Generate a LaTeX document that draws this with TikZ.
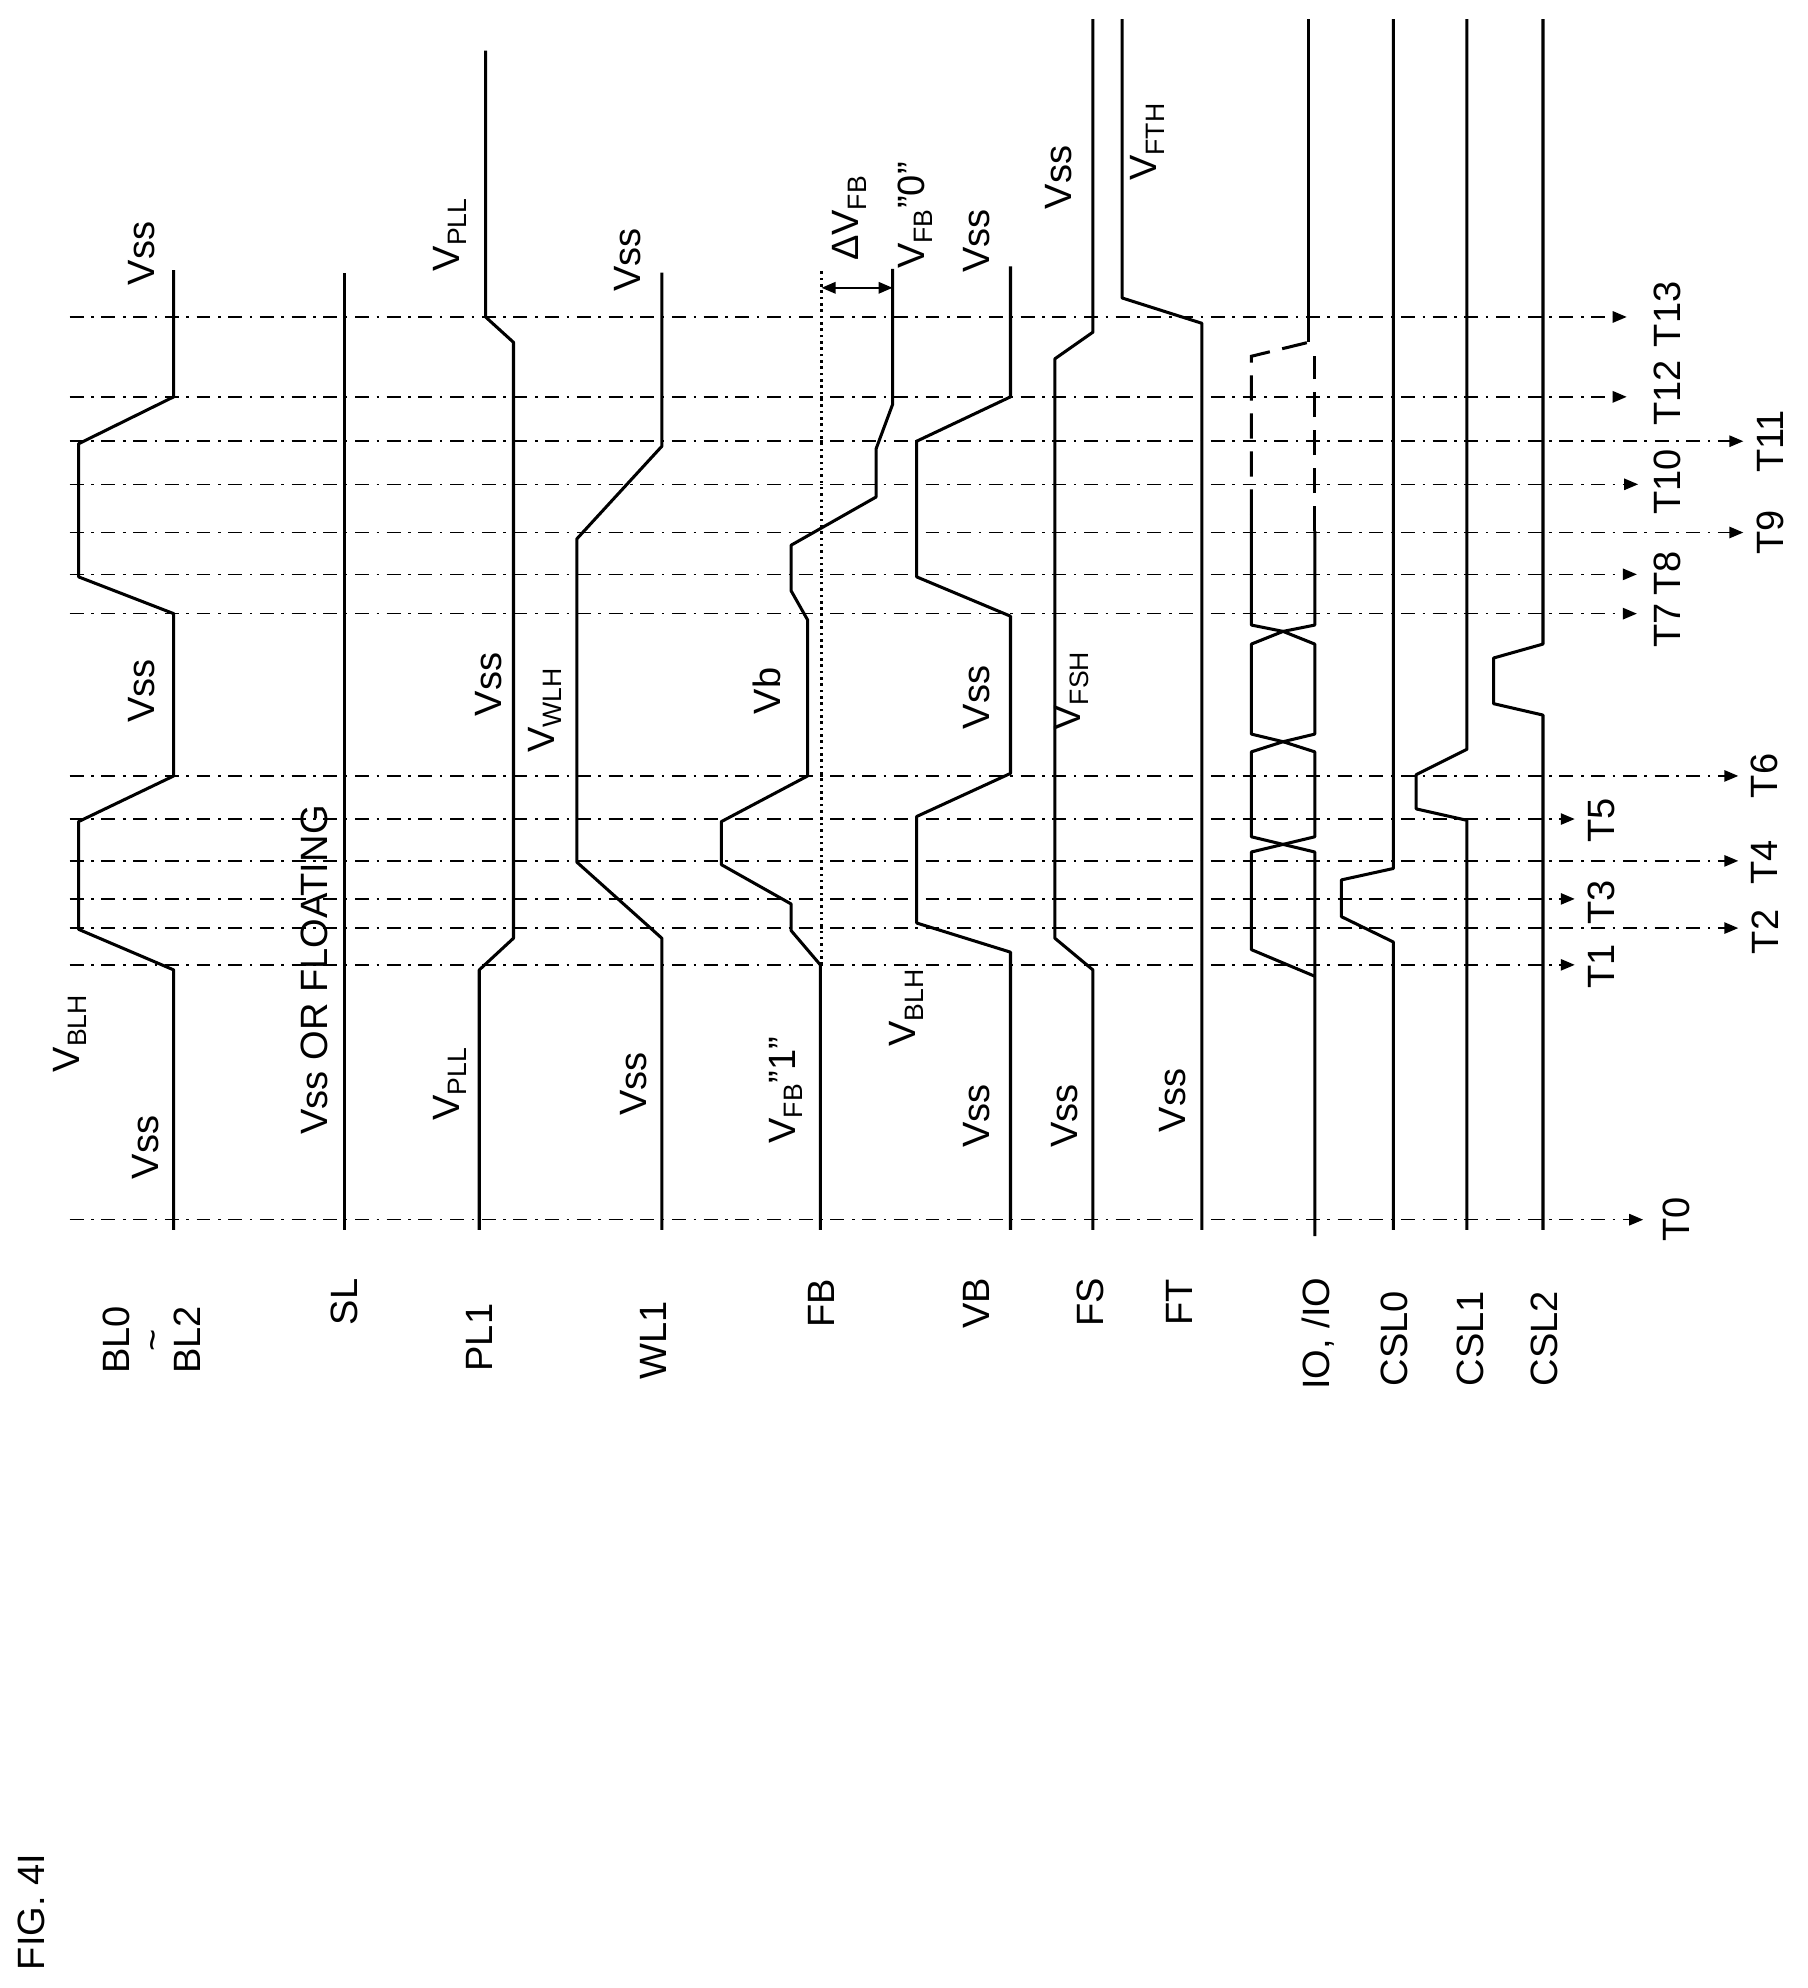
\documentclass[tikz,border=0pt]{standalone}
\usepackage{fontspec}
\setmainfont{Liberation Sans}
\usetikzlibrary{arrows.meta}
\begin{document}
\begin{tikzpicture}[x=1pt,y=-1pt,
  sig/.style={line width=2.4pt,line join=round},
  grid/.style={line width=1.2pt,dash pattern=on 11pt off 6pt on 2pt off 6pt,-{Triangle[length=11pt,width=9pt]}},
  lab/.style={rotate=90,font=\fontsize{30}{34}\selectfont,inner sep=0pt}]
\useasboundingbox (0,0) rectangle (1426,1568);
% grid
\foreach \y/\t in {962/1296,761/1242,732/1371,709/1242,679/1371,646/1242,612/1371,484/1291,453/1291,420/1375,382/1292,348/1375,313/1283,250/1283}
  \draw[grid] (55,\y) -- (\t,\y);
\foreach \x/\y/\s in {1322/962/T0,1263/762/T1,1263/712/T3,1263/647/T5,1392/735/T2,1392/680/T4,1392/612/T6,1315/493/T7,1315/452/T8,1315/380/T10,1315/310/T12,1315/248/T13,1396/420/T9,1396/348/T11}
  \node[lab] at (\x,\y) {\s};
% signals
\draw[sig] (137,970) -- (137,765) -- (62,733) -- (62,648) -- (137,612) -- (137,484) -- (62,455) -- (62,350) -- (137,313) -- (137,213);
\draw[sig] (272,970) -- (272,215);
\draw[sig] (378,970) -- (378,765) -- (405,740) -- (405,270) -- (383,250) -- (383,40);
\draw[sig] (522,970) -- (522,740) -- (455,680) -- (455,425) -- (522,352) -- (522,215);
\draw[sig] (647,970) -- (647,761) -- (624,734) -- (624,713) -- (569,682) -- (569,648) -- (637,612) -- (637,489) -- (624,466) -- (624,430) -- (691,392) -- (691,354) -- (704,319) -- (704,212);
\draw[line width=1.8pt,dash pattern=on 2pt off 3pt] (648,761) -- (648,214);
\draw[line width=1.5pt,{Triangle[length=11pt,width=9pt]}-{Triangle[length=11pt,width=9pt]}] (648,227) -- (704,227);
\draw[sig] (797,970) -- (797,751) -- (723,728) -- (723,644) -- (797,610) -- (797,486) -- (723,455) -- (723,348) -- (797,313) -- (797,210);
\draw[sig] (862,970) -- (862,765) -- (832,740) -- (832,283) -- (862,262) -- (862,15);
\draw[sig] (948,970) -- (948,255) -- (885,235) -- (885,15);
% IO
\draw[sig] (1037,975) -- (1037,770) -- (1037,672) -- (1012,666) -- (987,660) -- (987,593) -- (1012,585) -- (1037,579) -- (1037,508) -- (1012,498) -- (987,493) -- (987,406);
\draw[sig] (1037,770) -- (987,749) -- (987,672) -- (1012,666) -- (1037,660) -- (1037,593) -- (1012,585) -- (987,579) -- (987,508) -- (1012,498) -- (1037,493) -- (1037,419);
\draw[line width=2.4pt,dash pattern=on 20pt off 10pt] (987,406) -- (987,281) -- (1032,270);
\draw[line width=2.4pt,dash pattern=on 20pt off 10pt] (1037,419) -- (1037,281);
\draw[sig] (1032,270) -- (1032,15);
% CSL
\draw[sig] (1099,970) -- (1099,743) -- (1058,723) -- (1058,694) -- (1099,685) -- (1099,15);
\draw[sig] (1157,970) -- (1157,647) -- (1117,638) -- (1117,611) -- (1157,591) -- (1157,15);
\draw[sig] (1217,970) -- (1217,564) -- (1178,555) -- (1178,519) -- (1217,508) -- (1217,15);
% signal names
\node[lab,align=center] at (120,1057) {BL0\\[-6pt]\char`~\\[-6pt]BL2};
\node[lab] at (272,1027) {SL};
\node[lab] at (378,1055) {PL1};
\node[lab] at (515,1057) {WL1};
\node[lab] at (648,1028) {FB};
\node[lab] at (770,1028) {VB};
\node[lab] at (860,1027) {FS};
\node[lab] at (930,1027) {FT};
\node[lab] at (1040,1052) {IO, /IO};
\node[lab] at (1100,1056) {CSL0};
\node[lab] at (1160,1056) {CSL1};
\node[lab] at (1218,1056) {CSL2};
% level labels
\node[lab] at (55,815) {V\textsubscript{BLH}};
\node[lab] at (115,905) {Vss};
\node[lab] at (112,545) {Vss};
\node[lab] at (112,200) {Vss};
\node[lab] at (248,765) {Vss OR FLOATING};
\node[lab] at (355,855) {V\textsubscript{PLL}};
\node[lab] at (355,185) {V\textsubscript{PLL}};
\node[lab] at (385,540) {Vss};
\node[lab] at (430,560) {V\textsubscript{WLH}};
\node[lab] at (500,855) {Vss};
\node[lab] at (495,205) {Vss};
\node[lab] at (620,860) {V\textsubscript{FB}”1”};
\node[lab] at (605,545) {Vb};
\node[lab] at (670,172) {ΔV\textsubscript{FB}};
\node[lab] at (722,170) {V\textsubscript{FB}”0”};
\node[lab] at (770,190) {Vss};
\node[lab] at (715,795) {V\textsubscript{BLH}};
\node[lab] at (770,880) {Vss};
\node[lab] at (770,550) {Vss};
\node[lab] at (840,880) {Vss};
\node[lab] at (845,545) {V\textsubscript{FSH}};
\node[lab] at (835,140) {Vss};
\node[lab] at (925,868) {Vss};
\node[lab] at (905,112) {V\textsubscript{FTH}};
\node[lab] at (25,1508) {FIG. 4I};
\end{tikzpicture}
\end{document}
